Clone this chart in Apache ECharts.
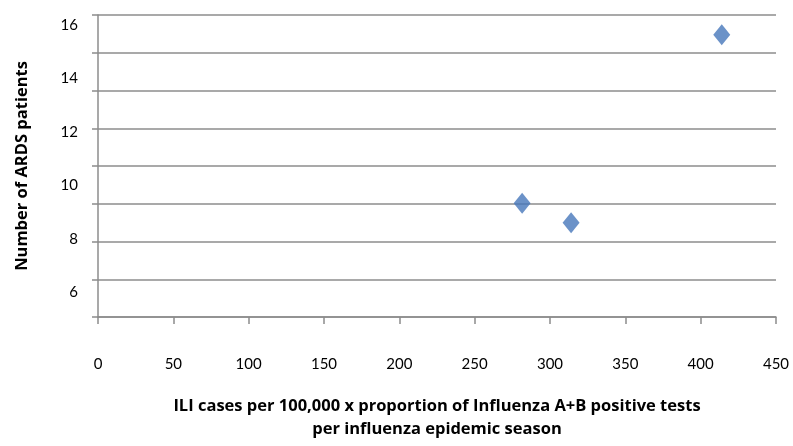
<!DOCTYPE html>
<html>
<head>
<meta charset="utf-8">
<script src="https://cdn.jsdelivr.net/npm/echarts@6/dist/echarts.min.js"></script>
<style>
html, body { margin: 0; padding: 0; background: #fff; }
#main { width: 793px; height: 446px; }
</style>
</head>
<body>
<div id="main"></div>
<script>
// values
var iliValues  = [281.5, 314, 414];
var ardsValues = [9.33, 8.6, 15.63];
var yLabels    = [6, 8, 10, 12, 14, 16];

var fontFamily = 'Lato, "Liberation Sans", sans-serif';
var titleFont  = '"Open Sans", Lato, sans-serif';
var lineColor  = '#8c8c8c';

var chart = echarts.init(document.getElementById('main'));
var points = iliValues.map(function(v, i) { return [v, ardsValues[i]]; });

var option = {
    animation: false,
    textStyle: {fontFamily: fontFamily},
    grid: {left: 98, right: 17, top: 15, bottom: 123},
    xAxis: {
        type: 'value',
        min: 0,
        max: 450,
        interval: 50,
        name: 'ILI cases per 100,000 x proportion of Influenza A+B positive tests\nper influenza epidemic season',
        nameLocation: 'middle',
        nameGap: 78,
        nameTextStyle: {color: '#000', fontSize: 16.5, fontWeight: 'bold', fontFamily: titleFont, lineHeight: 23},
        axisLine: {show: true, lineStyle: {color: lineColor, width: 1.5}},
        axisTick: {show: true, length: 7, lineStyle: {color: lineColor, width: 1.5}},
        axisLabel: {color: '#000', fontSize: 15, margin: 40},
        splitLine: {show: false}
    },
    yAxis: [
        {
            // labels as they sit in the original
            type: 'value',
            min: 5.08,
            max: 16.37,
            name: 'Number of ARDS patients',
            nameLocation: 'middle',
            nameGap: 67,
            nameTextStyle: {color: '#000', fontSize: 16.5, fontWeight: 'bold', fontFamily: titleFont},
            axisLine: {show: false},
            axisTick: {show: false},
            axisLabel: {color: '#000', fontSize: 15, margin: 20, customValues: yLabels},
            splitLine: {show: false}
        },
        {
            // gridlines
            type: 'value',
            position: 'left',
            min: 0,
            max: 8,
            interval: 1,
            axisLine: {show: true, onZero: false, lineStyle: {color: lineColor, width: 1.5}},
            axisTick: {show: true, length: 6, lineStyle: {color: lineColor, width: 1.5}},
            axisLabel: {show: false},
            splitLine: {show: true, lineStyle: {color: lineColor, width: 1.5}}
        }
    ],
    series: [
        {
            type: 'scatter',
            yAxisIndex: 0,
            symbol: 'diamond',
            symbolSize: [17, 21],
            itemStyle: {color: '#4677ba'},
            data: points
        }
    ]
};
chart.setOption(option);
</script>
</body>
</html>
